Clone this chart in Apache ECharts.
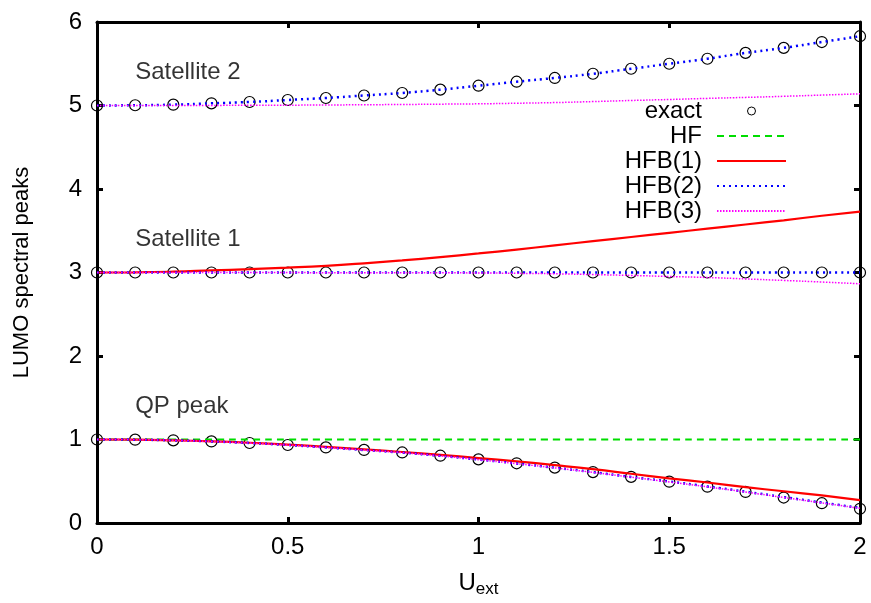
<!DOCTYPE html>
<html>
<head>
<meta charset="utf-8">
<script src="https://cdn.jsdelivr.net/npm/echarts@6/dist/echarts.min.js"></script>
<style>
    html, body { margin: 0; padding: 0; background: #fff; }
    #chart { width: 871px; height: 603px; }
</style>
</head>
<body>
<div id="chart"></div>
<script>
    // U_ext values
    var xs = [0, 0.1, 0.2, 0.3, 0.4, 0.5, 0.6, 0.7, 0.8, 0.9, 1.0, 1.1, 1.2, 1.3, 1.4, 1.5, 1.6, 1.7, 1.8, 1.9, 2.0];

    // exact peaks
    var exactQP   = [1.0, 0.998, 0.99, 0.977, 0.958, 0.934, 0.905, 0.875, 0.845, 0.806, 0.762, 0.715, 0.663, 0.61, 0.552, 0.495, 0.435, 0.372, 0.305, 0.237, 0.17];
    var exactSat1 = [3, 3, 3, 3, 3, 3, 3, 3, 3, 3, 3, 3, 3, 3, 3, 3, 3, 3, 3, 3, 3];
    var exactSat2 = [5.0, 5.003, 5.01, 5.026, 5.042, 5.066, 5.09, 5.12, 5.15, 5.19, 5.237, 5.285, 5.33, 5.38, 5.44, 5.5, 5.56, 5.63, 5.69, 5.76, 5.83];

    // HF
    var hfQP = [1, 1, 1, 1, 1, 1, 1, 1, 1, 1, 1, 1, 1, 1, 1, 1, 1, 1, 1, 1, 1];

    // HFB(1)
    var hfb1QP   = [1.0, 0.998, 0.99, 0.978, 0.961, 0.939, 0.912, 0.882, 0.85, 0.815, 0.778, 0.738, 0.693, 0.645, 0.59, 0.535, 0.485, 0.43, 0.38, 0.33, 0.275];
    var hfb1Sat1 = [3.0, 3.002, 3.01, 3.025, 3.04, 3.058, 3.08, 3.11, 3.145, 3.185, 3.228, 3.275, 3.325, 3.375, 3.425, 3.475, 3.525, 3.575, 3.625, 3.68, 3.73];

    // HFB(2)
    var hfb2QP   = [1.0, 0.998, 0.99, 0.977, 0.958, 0.934, 0.905, 0.874, 0.843, 0.804, 0.76, 0.713, 0.662, 0.609, 0.552, 0.496, 0.437, 0.375, 0.31, 0.245, 0.18];
    var hfb2Sat1 = [3, 3, 3, 3, 3, 3, 3, 3, 3, 3, 3, 3, 3, 3, 3, 3, 3, 3, 3, 3, 3];
    var hfb2Sat2 = [5.0, 5.003, 5.01, 5.026, 5.042, 5.066, 5.09, 5.12, 5.15, 5.19, 5.237, 5.285, 5.33, 5.38, 5.44, 5.5, 5.56, 5.63, 5.69, 5.76, 5.83];

    // HFB(3)
    var hfb3QP   = [1.0, 0.998, 0.99, 0.976, 0.957, 0.933, 0.904, 0.873, 0.842, 0.803, 0.758, 0.711, 0.66, 0.606, 0.549, 0.492, 0.433, 0.371, 0.306, 0.241, 0.176];
    var hfb3Sat1 = [3.0, 3.0, 3.0, 3.0, 2.999, 2.999, 2.998, 2.998, 2.997, 2.996, 2.995, 2.99, 2.985, 2.975, 2.965, 2.952, 2.94, 2.923, 2.905, 2.886, 2.865];
    var hfb3Sat2 = [5.0, 5.0, 5.0, 5.001, 5.003, 5.004, 5.006, 5.009, 5.012, 5.016, 5.02, 5.027, 5.035, 5.047, 5.06, 5.072, 5.085, 5.097, 5.11, 5.125, 5.14];

    var legendNames = ['exact', 'HF', 'HFB(1)', 'HFB(2)', 'HFB(3)'];
    var xTicks = [0, 0.5, 1, 1.5, 2];
    var yTicks = [0, 1, 2, 3, 4, 5, 6];
    var annotations = [
        { text: 'Satellite 2', x: 0.1, y: 5.4 },
        { text: 'Satellite 1', x: 0.1, y: 3.4 },
        { text: 'QP peak', x: 0.1, y: 1.4 }
    ];

    var FONT = '"Liberation Sans", Arial, sans-serif';

    function pairs(arr) {
        return xs.map(function (x, i) { return [x, arr[i]]; });
    }

    function lineSeries(name, arr, color, width, type) {
        return {
            name: name,
            type: 'line',
            data: pairs(arr),
            symbol: 'none',
            showSymbol: false,
            smooth: true,
            silent: true,
            lineStyle: { color: color, width: width, type: type },
            itemStyle: { color: color },
            z: 3
        };
    }

    var hfbDots = [2, 4];
    var hf3Dots = [1.5, 1.5];

    var chart = echarts.init(document.getElementById('chart'));

    var axisCommon = {
        type: 'value',
        splitLine: { show: false },
        axisLine: { show: true, onZero: false, lineStyle: { color: '#000', width: 3 } },
        axisTick: { show: true, inside: true, length: 6, lineStyle: { color: '#000', width: 3 } }
    };

    // legend: hide the dot ECharts puts on line icons, keep the circle for 'exact'
    var legendData = legendNames.map(function (n) {
        if (n === 'exact') {
            return { name: n, icon: 'circle', itemStyle: { color: 'rgba(0,0,0,0)', borderColor: '#000', borderWidth: 1 } };
        }
        return { name: n };
    });

    chart.setOption({
        animation: false,
        backgroundColor: '#fff',
        textStyle: { fontFamily: FONT },
        grid: { left: 97, right: 11, top: 22, bottom: 79, containLabel: false },
        legend: {
            data: legendData,
            right: 79,
            top: 94,
            orient: 'vertical',
            align: 'right',
            itemWidth: 69,
            itemHeight: 8,
            itemGap: 1,
            selectedMode: false,
            itemStyle: { color: 'rgba(0,0,0,0)', borderWidth: 0 },
            textStyle: { fontSize: 24, color: '#000', fontFamily: FONT, padding: [0, 10, 0, 0] }
        },
        xAxis: [
            Object.assign({}, axisCommon, {
                min: 0, max: 2, interval: 0.5,
                name: 'U{sub|ext}',
                nameLocation: 'middle',
                nameGap: 46,
                nameTextStyle: {
                    fontSize: 24, color: '#000', fontFamily: FONT,
                    rich: { sub: { fontSize: 17, verticalAlign: 'bottom', padding: [12, 0, 0, 0], fontFamily: FONT } }
                },
                axisLabel: {
                    fontSize: 24, color: '#000', margin: 12, fontFamily: FONT,
                    formatter: function (v) { return xTicks.indexOf(v) >= 0 ? String(v) : ''; }
                }
            }),
            Object.assign({}, axisCommon, {
                position: 'top',
                min: 0, max: 2, interval: 0.5,
                axisLabel: { show: false }
            })
        ],
        yAxis: [
            Object.assign({}, axisCommon, {
                min: 0, max: 6, interval: 1,
                name: 'LUMO spectral peaks',
                nameLocation: 'middle',
                nameGap: 64,
                nameTextStyle: { fontSize: 22, color: '#000', fontFamily: FONT },
                axisLabel: {
                    fontSize: 24, color: '#000', margin: 15, fontFamily: FONT,
                    formatter: function (v) { return yTicks.indexOf(v) >= 0 ? String(v) : ''; }
                }
            }),
            Object.assign({}, axisCommon, {
                position: 'right',
                min: 0, max: 6, interval: 1,
                axisLabel: { show: false }
            })
        ],
        series: [
            {
                name: 'exact',
                type: 'scatter',
                data: pairs(exactQP).concat(pairs(exactSat1), pairs(exactSat2)),
                symbol: 'circle',
                symbolSize: 11,
                silent: true,
                itemStyle: { color: 'rgba(0,0,0,0)', borderColor: '#000', borderWidth: 1.2, opacity: 1 },
                z: 2
            },
            lineSeries('HF', hfQP, '#00dd00', 2, [7, 5]),
            lineSeries('HFB(1)', hfb1QP, '#ff0000', 2.2, 'solid'),
            lineSeries('HFB(1)', hfb1Sat1, '#ff0000', 2.2, 'solid'),
            lineSeries('HFB(2)', hfb2QP, '#0000ff', 2.5, hfbDots),
            lineSeries('HFB(2)', hfb2Sat1, '#0000ff', 2.5, hfbDots),
            lineSeries('HFB(2)', hfb2Sat2, '#0000ff', 2.5, hfbDots),
            lineSeries('HFB(3)', hfb3QP, '#ff00ff', 1.5, hf3Dots),
            lineSeries('HFB(3)', hfb3Sat1, '#ff00ff', 1.5, hf3Dots),
            lineSeries('HFB(3)', hfb3Sat2, '#ff00ff', 1.5, hf3Dots),
            {
                name: 'labels',
                type: 'scatter',
                symbolSize: 0,
                silent: true,
                data: annotations.map(function (a) { return { value: [a.x, a.y], name: a.text }; }),
                label: {
                    show: true,
                    position: 'right',
                    distance: 0,
                    formatter: function (p) { return p.name; },
                    fontSize: 24,
                    color: '#000',
                    fontFamily: FONT
                }
            }
        ]
    });
</script>
</body>
</html>
